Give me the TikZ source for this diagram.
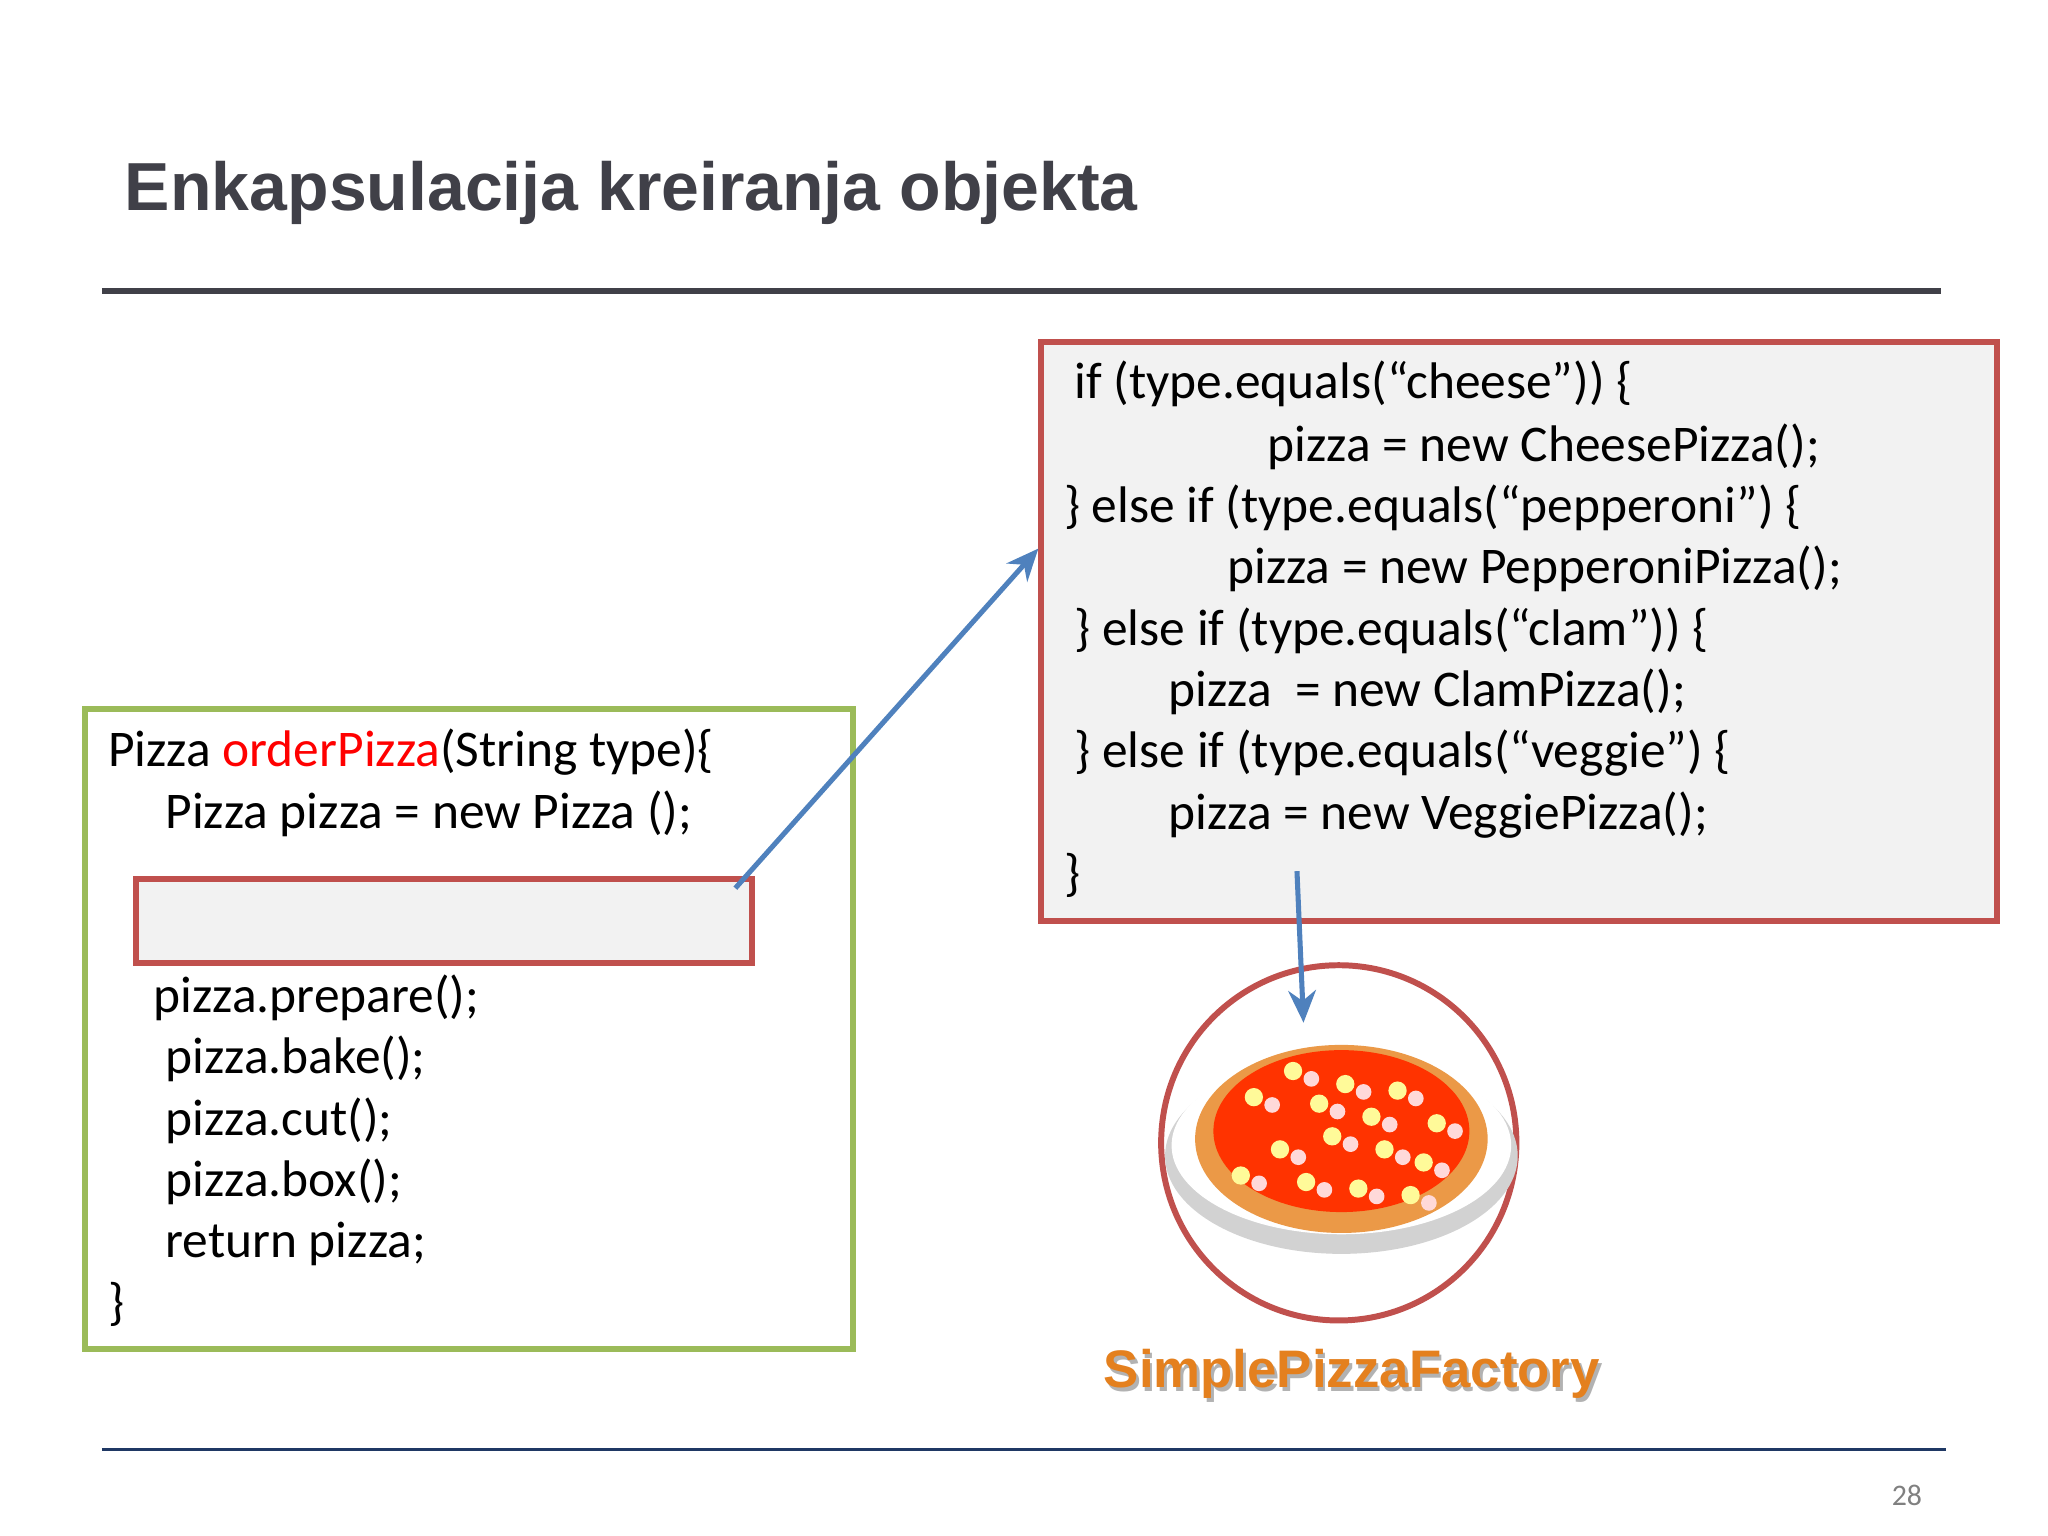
\documentclass[tikz,border=0pt]{standalone}
\usepackage{fontspec}
\setmainfont{Carlito}
\newfontfamily\titlefont{Liberation Sans}
\usetikzlibrary{arrows.meta}
\definecolor{tgray}{RGB}{64,64,72}
\definecolor{boxred}{RGB}{192,80,77}
\definecolor{boxgreen}{RGB}{155,187,89}
\definecolor{arrowblue}{RGB}{79,129,189}
\definecolor{fill}{RGB}{242,242,242}
\definecolor{orng}{RGB}{228,128,30}
\definecolor{navy}{RGB}{31,56,100}
\tikzset{code/.style={anchor=base west,inner sep=0pt,font=\fontsize{11.2}{13}\selectfont},
 conn/.style={draw=arrowblue,line width=1.1pt,-{Stealth[length=7pt,width=6pt]}}}
\begin{document}
\begin{tikzpicture}[x=0.01cm,y=-0.01cm]
\useasboundingbox (0,0) rectangle (1568,1176);
\node[anchor=west,inner sep=0pt,text=tgray,font=\titlefont\bfseries\fontsize{14.8}{17}\selectfont] (title) at (95,148) {Enkapsulacija kreiranja objekta};
\draw[tgray,line width=1.3pt] (78,223) -- (1486,223);
\draw[navy,line width=0.6pt] (78,1110) -- (1490,1110);
\node[text=gray,font=\fontsize{6.5}{8}\selectfont] (pg) at (1460,1145) {28};
% left box
\draw[boxgreen,line width=1.3pt] (65,543) rectangle (653,1033);
\node[code] (l1) at (82,587) {Pizza \textcolor{red}{orderPizza}(String type)\{};
\node[code] (l2) at (126,634) {Pizza pizza = new Pizza ();};
\draw[boxred,line width=1.3pt,fill=fill] (104,673) rectangle (576,737);
\node[code] (l3) at (117,775) {pizza.prepare();};
\node[code] (l4) at (126,822) {pizza.bake();};
\node[code] (l5) at (126,869) {pizza.cut();};
\node[code] (l6) at (126,916) {pizza.box();};
\node[code] (l7) at (126,963) {return pizza;};
\node[code] (l8) at (82,1010) {\}};
% right box
\draw[boxred,line width=1.3pt,fill=fill] (797,262) rectangle (1529,705);
\node[code] (r1) at (822,305) {if (type.equals(“cheese”)) \{};
\node[code] (r2) at (970,353) {pizza = new CheesePizza();};
\node[code] (r3) at (814,400) {\} else if (type.equals(“pepperoni”) \{};
\node[code] (r4) at (939,447) {pizza = new PepperoniPizza();};
\node[code] (r5) at (822,494) {\} else if (type.equals(“clam”)) \{};
\node[code] (r6) at (894,541) {pizza \ = new ClamPizza();};
\node[code] (r7) at (822,588) {\} else if (type.equals(“veggie”) \{};
\node[code] (r8) at (894,635) {pizza = new VeggiePizza();};
\node[code] (r9) at (814,682) {\}};
% pizza
\draw[boxred,line width=1.3pt,fill=white] (1025,875) circle (136);
\fill[gray!35] (1027,885) ellipse (135 and 75);
\fill[white] (1027,877) ellipse (130 and 68);
\fill[orange!60!brown!80!white] (1027,872) ellipse (112 and 72);
\fill[red!60!orange] (1027,866) ellipse (98 and 62);
\foreach \a/\b in {960/840,990/820,1030/830,1070/835,1100/860,980/880,1020/870,1060/880,1090/890,950/900,1000/905,1040/910,1080/915,1010/845,1050/855}
  {\fill[yellow!40!white] (\a,\b) circle (7); \fill[pink!60!white] (\a+14,\b+6) circle (6);}
\coordinate (cin) at (998,783);
\coordinate (tip) at (795,420);
\draw[conn] (563,680) -- (tip);
\draw[conn] (993,667) -- (cin);
\node[text=gray!60,font=\titlefont\bfseries\fontsize{11.5}{14}\selectfont] at (1037,1055) {SimplePizzaFactory};
\node[text=orng,font=\titlefont\bfseries\fontsize{11.5}{14}\selectfont] (fac) at (1035,1052) {SimplePizzaFactory};
\end{tikzpicture}
\end{document}
